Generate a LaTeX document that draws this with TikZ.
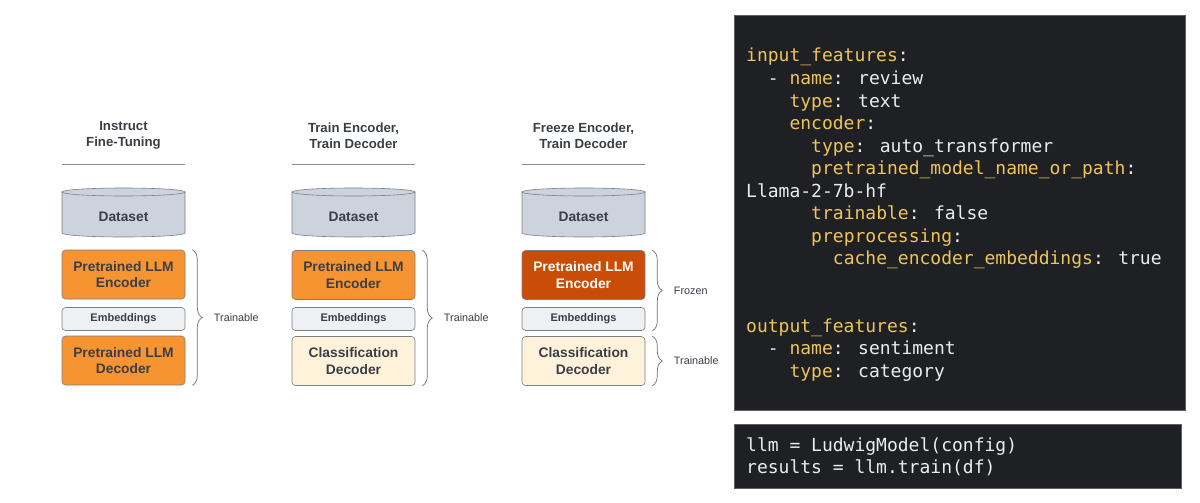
\documentclass[tikz,border=0pt]{standalone}
\usepackage{fontspec}
\setmainfont{Liberation Sans}
\newfontfamily\lsans{Liberation Sans}
\newfontfamily\codefont{DejaVu Sans Mono}
\usetikzlibrary{decorations.pathreplacing}
\definecolor{txt}{HTML}{3A3F47}
\definecolor{orangef}{HTML}{F79432}
\definecolor{darkorf}{HTML}{CA4D07}
\definecolor{creamf}{HTML}{FEF3DA}
\definecolor{embf}{HTML}{EEF1F4}
\definecolor{dsf}{HTML}{CDD3DC}
\definecolor{edgec}{HTML}{7D7F82}
\definecolor{codebg}{HTML}{1F2023}
\definecolor{codeedge}{HTML}{5E5F61}
\definecolor{keyc}{HTML}{EEC45C}
\definecolor{valc}{HTML}{ECECEC}
\tikzset{
  blk/.style={draw=edgec, line width=0.6pt, rounded corners=3.5pt, minimum width=123pt,
    text=txt, align=center, font=\lsans\bfseries\fontsize{13.8}{16.8}\selectfont, inner sep=0pt},
  bigblk/.style={blk, minimum height=49pt},
  orangebox/.style={bigblk, fill=orangef},
  darkbox/.style={bigblk, fill=darkorf, text=white},
  creambox/.style={bigblk, fill=creamf},
  embbox/.style={blk, fill=embf, minimum height=23pt, font=\lsans\bfseries\fontsize{11}{13}\selectfont},
  dslabel/.style={minimum width=123pt, minimum height=49pt, inner sep=0pt, text=txt,
    font=\lsans\bfseries\fontsize{13.8}{16.8}\selectfont},
  coltitle/.style={align=center, text=txt, font=\lsans\bfseries\fontsize{13.2}{16}\selectfont},
  sepline/.style={draw=black!45, line width=0.8pt},
  dscyl/.style={fill=dsf, draw=edgec, line width=0.6pt},
  bracec/.style={draw=black!55, line width=0.7pt, decorate, decoration={brace, amplitude=10pt}},
  brlabel/.style={anchor=west, xshift=18pt, text=txt, font=\lsans\fontsize{10.8}{13}\selectfont},
  codebox/.style={fill=codebg, draw=codeedge, line width=1.2pt, anchor=north west, inner sep=0pt},
  cl/.style={anchor=base west, inner sep=0pt, text=valc, font=\codefont\fontsize{18}{22}\selectfont},
}
\newcommand{\ky}[1]{\textcolor{keyc}{#1}}
\begin{document}
\begin{tikzpicture}[x=1pt,y=-1pt]
\useasboundingbox[fill=white] (0,0) rectangle (1200,503);

% ---------- columns ----------
\foreach \i/\cx in {1/123.5, 2/353.5, 3/583.5}{
  \draw[sepline] (\cx-61.5,164) -- (\cx+61.5,164);
  \path[dscyl] (\cx-61.5,192) -- (\cx-61.5,233) arc[start angle=180, end angle=0, x radius=61.5, y radius=4] -- (\cx+61.5,192) -- cycle;
  \path[dscyl] (\cx,192) ellipse[x radius=61.5, y radius=4];
  \node[dslabel] (ds\i) at (\cx,217) {Dataset};
  \node[embbox] (emb\i) at (\cx,319) {Embeddings};
}

\node[coltitle] (t1) at (123.5,135.5) {Instruct\\Fine-Tuning};
\node[coltitle] (t2) at (353.5,135.5) {Train Encoder,\\Train Decoder};
\node[coltitle] (t3) at (583.5,135.5) {Freeze Encoder,\\Train Decoder};

\node[orangebox] (enc1) at (123.5,274.5) {Pretrained LLM\\Encoder};
\node[orangebox] (dec1) at (123.5,360.5) {Pretrained LLM\\Decoder};
\node[orangebox] (enc2) at (353.5,275) {Pretrained LLM\\Encoder};
\node[creambox] (dec2) at (353.5,361) {Classification\\Decoder};
\node[darkbox] (enc3) at (583.5,275) {Pretrained LLM\\Encoder};
\node[creambox] (dec3) at (583.5,361) {Classification\\Decoder};

% ---------- braces ----------
\draw[bracec] ([xshift=7pt]enc1.north east) -- ([xshift=7pt]dec1.south east)
  node[midway, brlabel] (lab1) {Trainable};
\draw[bracec] ([xshift=7pt]enc2.north east) -- ([xshift=7pt]dec2.south east)
  node[midway, brlabel] (lab2) {Trainable};
\draw[bracec] ([xshift=7pt]enc3.north east) -- ([xshift=7pt]emb3.south east)
  node[midway, brlabel] (lab3) {Frozen};
\draw[bracec] ([xshift=7pt]dec3.north east) -- ([xshift=7pt]dec3.south east)
  node[midway, brlabel] (lab4) {Trainable};

% ---------- code boxes ----------
\node[codebox, minimum width=451pt, minimum height=395pt] (cfg) at (734,15) {};
\node[codebox, minimum width=447pt, minimum height=64pt] (run) at (734,424) {};

\def\cw{10.84}
\node[cl] (c1)  at (746,62)             {\ky{input\_features}:};
\node[cl] (c2)  at (746+2*\cw,84.5)     {- \ky{name}: review};
\node[cl] (c3)  at (746+4*\cw,107)      {\ky{type}: text};
\node[cl] (c4)  at (746+4*\cw,129.5)    {\ky{encoder}:};
\node[cl] (c5)  at (746+6*\cw,152)      {\ky{type}: auto\_transformer};
\node[cl] (c6)  at (746+6*\cw,174.5)    {\ky{pretrained\_model\_name\_or\_path}:};
\node[cl] (c7)  at (746,197)            {Llama-2-7b-hf};
\node[cl] (c8)  at (746+6*\cw,219.5)    {\ky{trainable}: false};
\node[cl] (c9)  at (746+6*\cw,242)      {\ky{preprocessing}:};
\node[cl] (c10) at (746+8*\cw,264.5)    {\ky{cache\_encoder\_embeddings}: true};
\node[cl] (c11) at (746,332)            {\ky{output\_features}:};
\node[cl] (c12) at (746+2*\cw,354.5)    {- \ky{name}: sentiment};
\node[cl] (c13) at (746+4*\cw,377)      {\ky{type}: category};

\node[cl] (r1) at (746,451)   {llm = LudwigModel(config)};
\node[cl] (r2) at (746,473.5) {results = llm.train(df)};
\end{tikzpicture}
\end{document}
